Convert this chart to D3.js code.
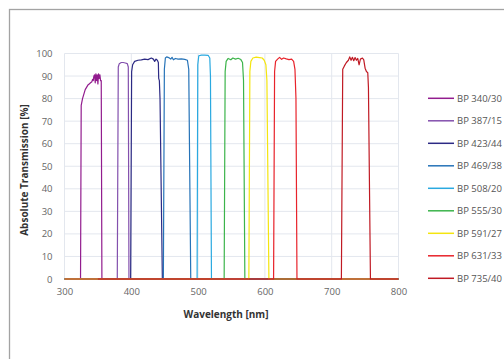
<!DOCTYPE html>
<html>
<head>
<meta charset="utf-8">
<script src="https://cdn.jsdelivr.net/npm/d3@7"></script>
<style>
  html, body { margin: 0; padding: 0; background: #fff; }
  text { font-family: "Open Sans", "Noto Sans", sans-serif; }
</style>
</head>
<body>
<div id="chart"></div>
<script>
// filter curves, [wavelength nm, transmission %]
const bp340 = [[300,0],[324,0],[325,77],[327,80],[329,82],[331,84],[333,85],[335,86],[337,86.5],[339,87],[341,87.5],[342,88.5],[343,88],[344,90],[345,90.5],[346,87],[347,91],[348,88],[349,90.5],[350,86.5],[351,91],[352,89],[353,90.5],[354,88],[355,88],[356,0],[800,0]];
const bp387 = [[300,0],[379,0],[380.5,94],[382,95.5],[385,96],[388,96],[391,95.8],[394,95.5],[395.5,94],[396.5,0],[800,0]];
const bp423 = [[300,0],[399,0],[400.5,92],[402,95],[405,96.5],[410,97],[415,97.2],[420,97.5],[425,97.3],[430,98],[433,97.5],[435,96.5],[437,97.5],[439,97],[440.5,96],[441,89],[442,88],[443,80],[446.5,0],[800,0]];
const bp469 = [[300,0],[448,0],[449.5,93],[451,98],[453,98.5],[456,98.2],[459,97.5],[461,98.3],[463,97.2],[466,97.8],[470,97.5],[475,97.6],[480,97.4],[484,97],[486,93],[489,0],[800,0]];
const bp508 = [[300,0],[498.5,0],[499.5,95],[501,99],[505,99.3],[510,99.3],[515,99.2],[517.5,98],[518.5,90],[520,0],[800,0]];
const bp555 = [[300,0],[539,0],[540.5,92],[542,96.5],[545,97.8],[549,97.2],[552,98],[556,97.5],[560,97.9],[564,97.3],[566.5,96],[568,88],[570,0],[800,0]];
const bp591 = [[300,0],[576,0],[577.5,92],[579,96.5],[582,98],[587,98.4],[592,98.2],[596,98],[599,97],[601.5,95],[603,88],[606,0],[800,0]];
const bp631 = [[300,0],[613,0],[614.5,92],[616,96.5],[619,97.5],[622,98.3],[625,97.4],[628,98],[632,97.6],[636,97.3],[640,97.5],[643,96.5],[645,93],[646.5,80],[648,0],[800,0]];
const bp735 = [[350,0],[714.5,0],[716.5,93],[719,94.5],[722,96],[725,97],[727,98.5],[729,97],[731,98.3],[733,96.8],[735,98.2],[737,97],[739,97.8],[741,95],[743,97.5],[746,98],[748,97.2],[750,93.5],[752,92],[754,91.5],[755,85],[758,0],[800,0]];

const seriesNames = ['BP 340/30', 'BP 387/15', 'BP 423/44', 'BP 469/38', 'BP 508/20', 'BP 555/30', 'BP 591/27', 'BP 631/33', 'BP 735/40'];
const seriesData = [bp340, bp387, bp423, bp469, bp508, bp555, bp591, bp631, bp735];
const seriesColors = ['#921c8e', '#8350ad', '#2c2a84', '#2673b8', '#2aa9e0', '#3cb44b', '#f4e50f', '#e8232b', '#c01a24'];

const xTicks = [300, 400, 500, 600, 700, 800];
const yTicks = [0, 10, 20, 30, 40, 50, 60, 70, 80, 90, 100];

const width = 504, height = 359;
const margin = {top: 53.5, right: 105.5, bottom: 80, left: 64.5};

const svg = d3.select('#chart')
  .append('svg')
  .attr('width', width)
  .attr('height', height);

// outer frame, runs off the right and bottom edge
svg.append('rect')
  .attr('x', 9.5).attr('y', 9.5)
  .attr('width', 620).attr('height', 420)
  .attr('fill', 'none')
  .attr('stroke', '#a3a3a3')
  .attr('stroke-width', 1.3);

const x = d3.scaleLinear()
  .domain([300, 800])
  .range([margin.left, width - margin.right]);

const y = d3.scaleLinear()
  .domain([0, 100])
  .range([height - margin.bottom, margin.top]);

// grid
svg.append('g')
  .selectAll('line.h')
  .data(yTicks)
  .join('line')
  .attr('x1', x(300)).attr('x2', x(800))
  .attr('y1', d => y(d)).attr('y2', d => y(d))
  .attr('stroke', '#e3e7ee')
  .attr('stroke-width', 1);

svg.append('g')
  .selectAll('line.v')
  .data(xTicks)
  .join('line')
  .attr('x1', d => x(d)).attr('x2', d => x(d))
  .attr('y1', y(0)).attr('y2', y(100))
  .attr('stroke', '#e3e7ee')
  .attr('stroke-width', 1);

// axes (labels only)
const xAxis = g => g
  .attr('transform', `translate(0,${y(0) + 9})`)
  .call(d3.axisBottom(x).tickValues(xTicks).tickSize(0).tickPadding(0))
  .call(h => h.select('.domain').remove())
  .call(h => h.selectAll('text')
    .attr('fill', '#666')
    .attr('font-size', 9.5)
    .attr('font-family', '"Open Sans", sans-serif'));

const yAxis = g => g
  .attr('transform', `translate(${x(300) - 12},0)`)
  .call(d3.axisLeft(y).tickValues(yTicks).tickSize(0).tickPadding(0))
  .call(h => h.select('.domain').remove())
  .call(h => h.selectAll('text')
    .attr('fill', '#666')
    .attr('font-size', 9.5)
    .attr('font-family', '"Open Sans", sans-serif'));

svg.append('g').call(xAxis);
svg.append('g').call(yAxis);

svg.append('text')
  .attr('x', 226)
  .attr('y', 317.5)
  .attr('text-anchor', 'middle')
  .attr('font-size', 10)
  .attr('font-weight', 'bold')
  .attr('fill', '#333')
  .text('Wavelength [nm]');

svg.append('text')
  .attr('transform', 'translate(27.5,170) rotate(-90)')
  .attr('text-anchor', 'middle')
  .attr('font-size', 10)
  .attr('font-weight', 'bold')
  .attr('fill', '#333')
  .text('Absolute Transmission [%]');

// curves
const line = d3.line()
  .x(d => x(d[0]))
  .y(d => y(d[1]));

svg.append('g')
  .selectAll('path')
  .data(seriesData)
  .join('path')
  .attr('fill', 'none')
  .attr('stroke', (d, i) => seriesColors[i])
  .attr('stroke-width', 1.2)
  .attr('stroke-linejoin', 'round')
  .attr('d', line);

// legend
const legend = svg.append('g')
  .selectAll('g')
  .data(seriesNames)
  .join('g')
  .attr('transform', (d, i) => `translate(428,${98.3 + i * 22.5})`);

legend.append('line')
  .attr('x1', 0).attr('x2', 26)
  .attr('stroke', (d, i) => seriesColors[i])
  .attr('stroke-width', 1.5);

legend.append('text')
  .attr('x', 29)
  .attr('dy', '0.35em')
  .attr('font-size', 9.5)
  .attr('fill', '#555')
  .text(d => d);
</script>
</body>
</html>
